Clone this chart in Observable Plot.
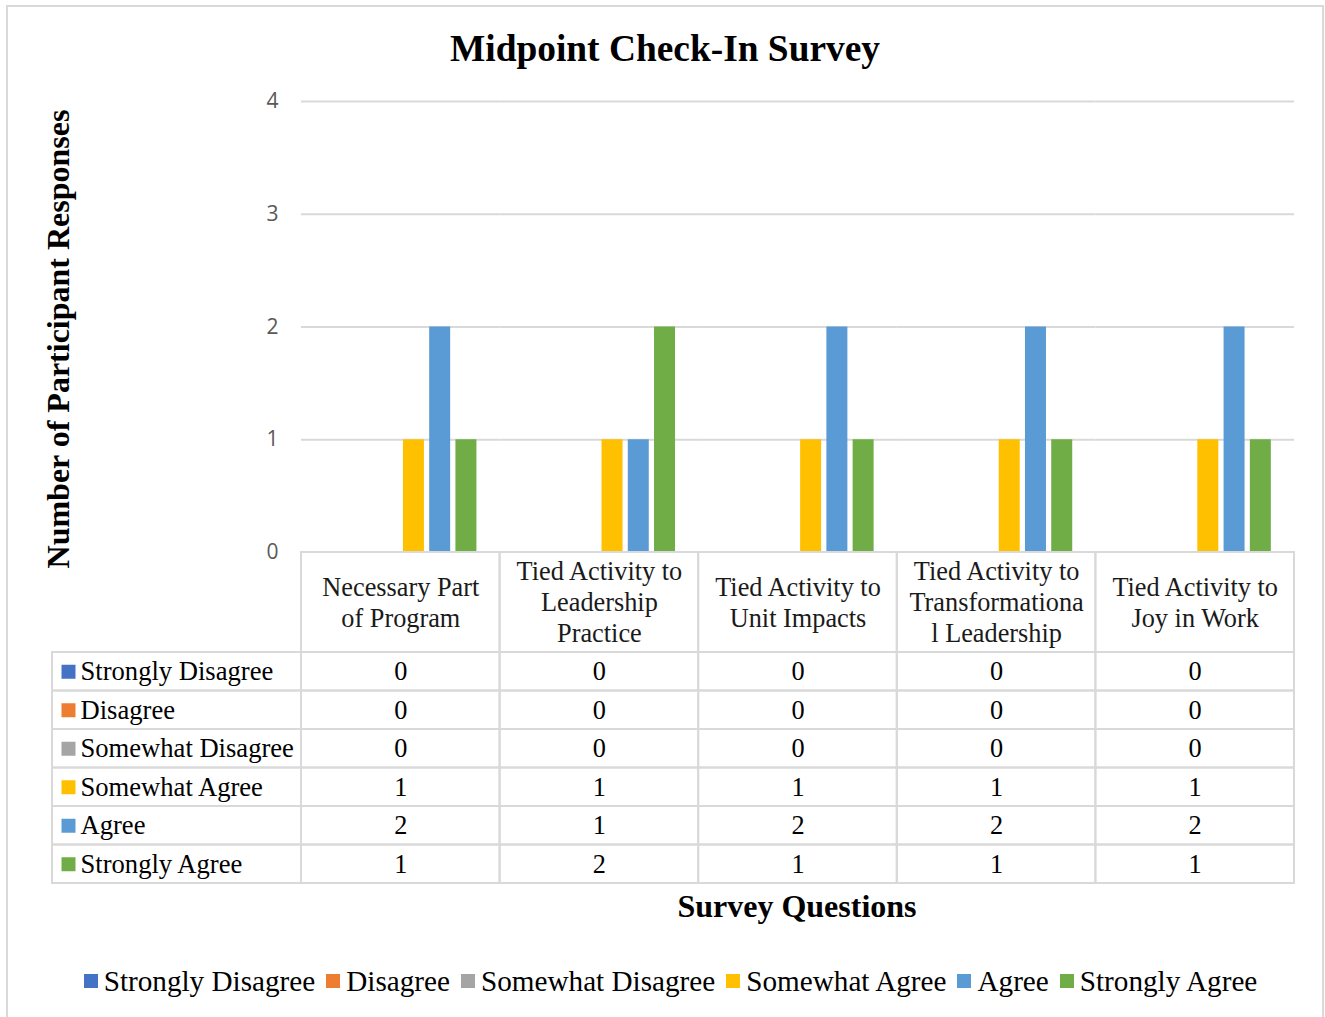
<!DOCTYPE html>
<html><head><meta charset="utf-8">
<script src="https://cdn.jsdelivr.net/npm/d3@7"></script>
<script src="https://cdn.jsdelivr.net/npm/@observablehq/plot@0.6"></script>
<style>
html,body{margin:0;padding:0;background:#fff;}
#chart{position:relative;width:1325px;height:1017px;overflow:hidden;font-family:"Liberation Serif","Times New Roman",serif;background:#fff;}
.abs{position:absolute;}
.abs svg{background:transparent !important;}
#legend{position:absolute;left:0;width:1341px;top:960px;text-align:center;font-size:29.2px;line-height:36px;color:#000;white-space:nowrap;}
#legend .item{display:inline-flex;align-items:center;margin-right:11px;}
#legend .item:last-child{margin-right:0;}
#legend .sw{display:inline-block;width:14px;height:14px;margin-right:6px;}
</style></head><body><div id="chart"></div>
<script>
const questions = ["Necessary Part of Program","Tied Activity to Leadership Practice","Tied Activity to Unit Impacts","Tied Activity to Transformational Leadership","Tied Activity to Joy in Work"];
const questionLabels = ["Necessary Part\nof Program","Tied Activity to\nLeadership\nPractice","Tied Activity to\nUnit Impacts","Tied Activity to\nTransformationa\nl Leadership","Tied Activity to\nJoy in Work"];
const series = ["Strongly Disagree","Disagree","Somewhat Disagree","Somewhat Agree","Agree","Strongly Agree"];
const colors = ["#4472C4","#ED7D31","#A5A5A5","#FFC000","#5B9BD5","#70AD47"];
const stronglyDisagree = [0,0,0,0,0];
const disagree = [0,0,0,0,0];
const somewhatDisagree = [0,0,0,0,0];
const somewhatAgree = [1,1,1,1,1];
const agree = [2,1,2,2,2];
const stronglyAgree = [1,2,1,1,1];
const yTicks = [0,1,2,3,4];
const title = "Midpoint Check-In Survey";
const yTitle = "Number of Participant Responses";
const xTitle = "Survey Questions";

const valuesBySeries = [stronglyDisagree, disagree, somewhatDisagree, somewhatAgree, agree, stronglyAgree];
const data = [];
series.forEach((s, si) => questions.forEach((q, qi) => data.push({series: s, question: q, value: valuesBySeries[si][qi]})));

const chart = document.getElementById("chart");
const serif = "'Liberation Serif','Times New Roman',serif";
const gridColor = "#d9d9d9";

function place(el, left, top) {
  const d = document.createElement("div");
  d.className = "abs";
  d.style.left = left + "px";
  d.style.top = top + "px";
  d.appendChild(el);
  chart.appendChild(d);
  return d;
}

// outer border
const border = document.createElement("div");
border.style.cssText = "position:absolute;left:6px;top:5px;width:1318px;height:1040px;border:2px solid #d9d9d9;box-sizing:border-box;";
chart.appendChild(border);

// bars
const bars = Plot.plot({
  width: 1325, height: 560,
  marginLeft: 301, marginRight: 31, marginTop: 101, marginBottom: 8,
  fx: {domain: questions, paddingInner: 0, paddingOuter: 0, round: false, axis: null, label: null},
  x: {domain: series, paddingInner: 0.2, paddingOuter: 0.883, round: false, axis: null},
  y: {domain: [0, 4], axis: null},
  color: {domain: series, range: colors},
  style: {fontFamily: "'Open Sans', Lato, sans-serif", fontSize: "21px", background: "transparent", overflow: "visible"},
  marks: [
    Plot.ruleY(yTicks.filter(d => d > 0), {stroke: gridColor, strokeWidth: 2}),
    Plot.barY(data, {fx: "question", x: "series", y: "value", fill: "series"}),
    Plot.axisY(yTicks, {anchor: "left", tickSize: 0, tickPadding: 23, tickFormat: d3.format("d"), color: "#595959", fontSize: 21, label: null})
  ]
});
place(bars, 0, 0);

// header row of table
const bw = (1294 - 301) / questions.length;
const header = Plot.plot({
  width: 1325, height: 102,
  marginLeft: 301, marginRight: 31, marginTop: 1, marginBottom: 1,
  x: {domain: questions, padding: 0, round: false, axis: null},
  style: {fontFamily: serif, fontSize: "26px", background: "transparent", overflow: "visible"},
  marks: [
    Plot.cell(questions, {x: d => d, fill: "none", stroke: gridColor, strokeWidth: 2}),
    Plot.text(questions, {x: d => d, text: (d, i) => questionLabels[i], fontSize: 26.3, lineHeight: 31 / 26.3, dy: -1, fill: "#1a1a1a"})
  ]
});
place(header, 0, 551);

// data table
const table = Plot.plot({
  width: 1325, height: 234,
  marginLeft: 301, marginRight: 31, marginTop: 1, marginBottom: 2,
  x: {domain: questions, padding: 0, round: false, axis: null},
  y: {domain: series, padding: 0, round: false, axis: null},
  color: {domain: series, range: colors},
  style: {fontFamily: serif, fontSize: "26px", background: "transparent", overflow: "visible"},
  marks: [
    Plot.cell(series, {x: () => questions[0], y: d => d, insetLeft: -249, insetRight: bw, fill: "none", stroke: gridColor, strokeWidth: 2}),
    Plot.cell(data, {x: "question", y: "series", fill: "none", stroke: gridColor, strokeWidth: 2}),
    Plot.text(data, {x: "question", y: "series", text: d => String(d.value), fontSize: 26.3, fill: "#000"}),
    Plot.dot(series, {y: d => d, frameAnchor: "left", dx: -233, symbol: "square", r: 7.9, fill: d => d}),
    Plot.text(series, {y: d => d, frameAnchor: "left", dx: -221, textAnchor: "start", text: d => d, fontSize: 26.6, fill: "#000"})
  ]
});
place(table, 0, 651);

// titles
const ns = "http://www.w3.org/2000/svg";
const svg = document.createElementNS(ns, "svg");
svg.setAttribute("width", 1325); svg.setAttribute("height", 1017);
svg.style.cssText = "position:absolute;left:0;top:0;pointer-events:none;";
function addText(str, attrs) {
  const t = document.createElementNS(ns, "text");
  for (const k in attrs) t.setAttribute(k, attrs[k]);
  t.textContent = str;
  svg.appendChild(t);
}
addText(title, {x: 665, y: 61, "text-anchor": "middle", "font-family": serif, "font-size": 37.4, "font-weight": "bold", fill: "#000"});
addText(yTitle, {transform: "translate(69,339) rotate(-90)", "text-anchor": "middle", "font-family": serif, "font-size": 32, "font-weight": "bold", fill: "#000"});
addText(xTitle, {x: 797, y: 917, "text-anchor": "middle", "font-family": serif, "font-size": 32, "font-weight": "bold", fill: "#000"});
chart.appendChild(svg);

// legend
const legend = document.createElement("div");
legend.id = "legend";
series.forEach((s, i) => {
  const item = document.createElement("span");
  item.className = "item";
  const sw = document.createElement("span");
  sw.className = "sw";
  sw.style.background = colors[i];
  item.appendChild(sw);
  item.appendChild(document.createTextNode(s));
  legend.appendChild(item);
});
chart.appendChild(legend);
</script></body></html>
